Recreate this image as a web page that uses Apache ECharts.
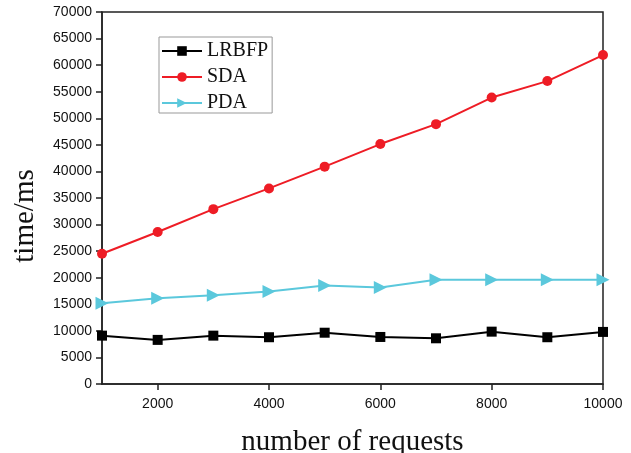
<!DOCTYPE html>
<html>
<head>
<meta charset="utf-8">
<script src="https://cdn.jsdelivr.net/npm/echarts@6/dist/echarts.min.js"></script>
<style>html,body{margin:0;padding:0;background:#fff}#c{width:631px;height:453px}</style>
</head>
<body>
<div id="c"></div>
<script>
const requests = [1000, 2000, 3000, 4000, 5000, 6000, 7000, 8000, 9000, 10000];
const lrbfp = [9100, 8300, 9100, 8800, 9650, 8850, 8600, 9850, 8800, 9800];
const sda = [24500, 28600, 32900, 36800, 40900, 45150, 48900, 53900, 57000, 61900];
const pda = [15200, 16150, 16700, 17400, 18550, 18150, 19600, 19600, 19600, 19600];
const xTicks = [2000, 4000, 6000, 8000, 10000];
const names = ['LRBFP', 'SDA', 'PDA'];

const chart = echarts.init(document.getElementById('c'), null, {renderer: 'canvas'});
const pair = arr => requests.map((x, i) => [x, arr[i]]);
chart.setOption({
  animation: false,
  backgroundColor: '#fff',
  grid: {left: 102, top: 12, right: 28, bottom: 69, show: true, borderColor: '#222', borderWidth: 1.5,
         containLabel: false, outerBoundsMode: 'none'},
  legend: {
    data: names,
    orient: 'vertical',
    left: 159, top: 37,
    padding: [4, 4, 0, 2],
    itemGap: 6,
    itemWidth: 40, itemHeight: 12,
    borderColor: '#999', borderWidth: 1,
    textStyle: {fontFamily: 'Liberation Serif', fontSize: 20, color: '#111'}
  },
  xAxis: {
    type: 'value', min: 1000, max: 10000,
    name: 'number of requests', nameLocation: 'middle', nameGap: 44,
    nameTextStyle: {fontFamily: 'Liberation Serif', fontSize: 29, color: '#111'},
    axisLine: {show: true, onZero: false, lineStyle: {color: '#222', width: 1.5}},
    axisTick: {show: true, customValues: xTicks, length: 6, lineStyle: {color: '#222', width: 1.5}},
    axisLabel: {customValues: xTicks, formatter: v => String(v), fontFamily: 'Liberation Sans', fontSize: 14, color: '#111', margin: 13},
    splitLine: {show: false}
  },
  yAxis: {
    type: 'value', min: 0, max: 70000, interval: 5000,
    name: 'time/ms', nameLocation: 'middle', nameGap: 62, nameRotate: 90,
    nameTextStyle: {fontFamily: 'Liberation Serif', fontSize: 29, color: '#111', padding: [0, 36, 0, 0]},
    axisLine: {show: true, lineStyle: {color: '#222', width: 1.5}},
    axisTick: {show: true, length: 6, lineStyle: {color: '#222', width: 1.5}},
    axisLabel: {formatter: v => String(v), fontFamily: 'Liberation Sans', fontSize: 14, color: '#111', margin: 10},
    splitLine: {show: false}
  },
  series: [
    {name: 'LRBFP', type: 'line', data: pair(lrbfp), symbol: 'rect', symbolSize: 10,
     lineStyle: {color: '#000', width: 2}, itemStyle: {color: '#000'}},
    {name: 'SDA', type: 'line', data: pair(sda), symbol: 'circle', symbolSize: 10,
     lineStyle: {color: '#ee1c25', width: 2}, itemStyle: {color: '#ee1c25'}},
    {name: 'PDA', type: 'line', data: pair(pda), symbol: 'triangle', symbolRotate: -90, symbolSize: 13,
     lineStyle: {color: '#5bc8dc', width: 2}, itemStyle: {color: '#5bc8dc'}}
  ]
});
</script>
</body>
</html>
